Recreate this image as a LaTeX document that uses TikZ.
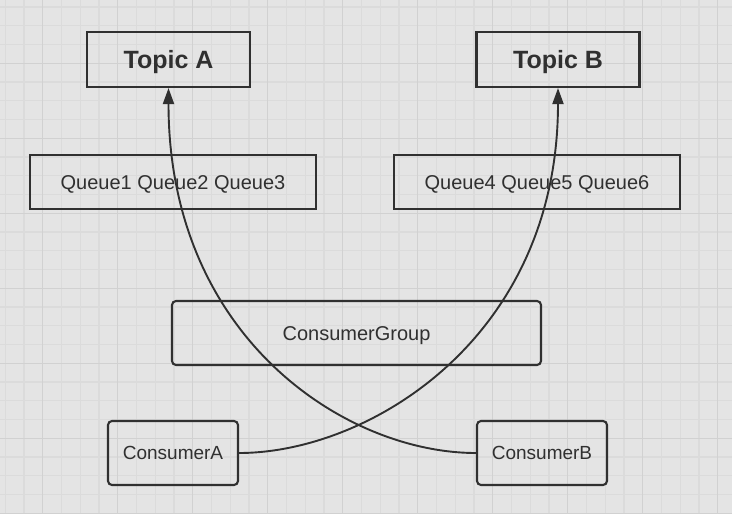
\documentclass[tikz,border=0pt]{standalone}
\usepackage{fontspec}
\setmainfont{Liberation Sans}
\usetikzlibrary{arrows.meta}
\definecolor{bgc}{HTML}{E4E4E4}
\definecolor{minorc}{HTML}{DBDBDB}
\definecolor{majorc}{HTML}{D1D1D1}
\definecolor{ink}{HTML}{303030}
\tikzset{
  boxsq/.style={draw=ink, line width=2.1pt, inner sep=0pt, text=ink, font=\fontsize{20}{24}\selectfont, text height=14.3pt, text depth=0pt},
  boxrd/.style={boxsq, rounded corners=4pt},
  consbox/.style={boxrd, font=\fontsize{19}{23}\selectfont, text height=13.6pt},
  topicbox/.style={boxsq, font=\fontsize{25}{30}\selectfont\bfseries, text height=17.9pt},
  link/.style={draw=ink, line width=1.9pt, -{Triangle[length=16pt,width=11pt]}}
}
\begin{document}
\begin{tikzpicture}[x=1pt,y=-1pt]
\useasboundingbox (0,0) rectangle (732,514);
\fill[bgc] (0,0) rectangle (732,514);
% minor grid
\foreach \i in {0,...,39} {
  \draw[minorc, line width=1.2pt] ({5.2+18.75*\i},0) -- ({5.2+18.75*\i},514);
}
\foreach \j in {0,...,27} {
  \draw[minorc, line width=1.2pt] (0,{7.05+18.75*\j}) -- (732,{7.05+18.75*\j});
}
% major grid
\foreach \i in {0,...,9} {
  \draw[majorc, line width=1.4pt] ({42.7+75*\i},0) -- ({42.7+75*\i},514);
}
\foreach \j in {0,...,6} {
  \draw[majorc, line width=1.4pt] (0,{63.3+75*\j}) -- (732,{63.3+75*\j});
}
% nodes
\node[topicbox, minimum width=163pt, minimum height=55pt] (ta) at (168.5,59.5) {Topic A};
\node[topicbox, minimum width=163pt, minimum height=55pt] (tb) at (558,59.5) {Topic B};
\node[boxsq, minimum width=286pt, minimum height=54pt] (q1) at (173,182) {Queue1 Queue2 Queue3};
\node[boxsq, minimum width=286pt, minimum height=54pt] (q2) at (537,182) {Queue4 Queue5 Queue6};
\node[boxrd, minimum width=369pt, minimum height=64pt] (cg) at (356.5,333) {ConsumerGroup};
\node[consbox, minimum width=130pt, minimum height=64pt] (ca) at (173,453) {ConsumerA};
\node[consbox, minimum width=130pt, minimum height=64pt] (cb) at (542,453) {ConsumerB};
% connectors
\draw[link] (cb.west) .. controls +(-130,0) and +(0,250) .. (ta.south);
\draw[link] (ca.east) .. controls +(130,0) and +(0,250) .. (tb.south);
\end{tikzpicture}
\end{document}
